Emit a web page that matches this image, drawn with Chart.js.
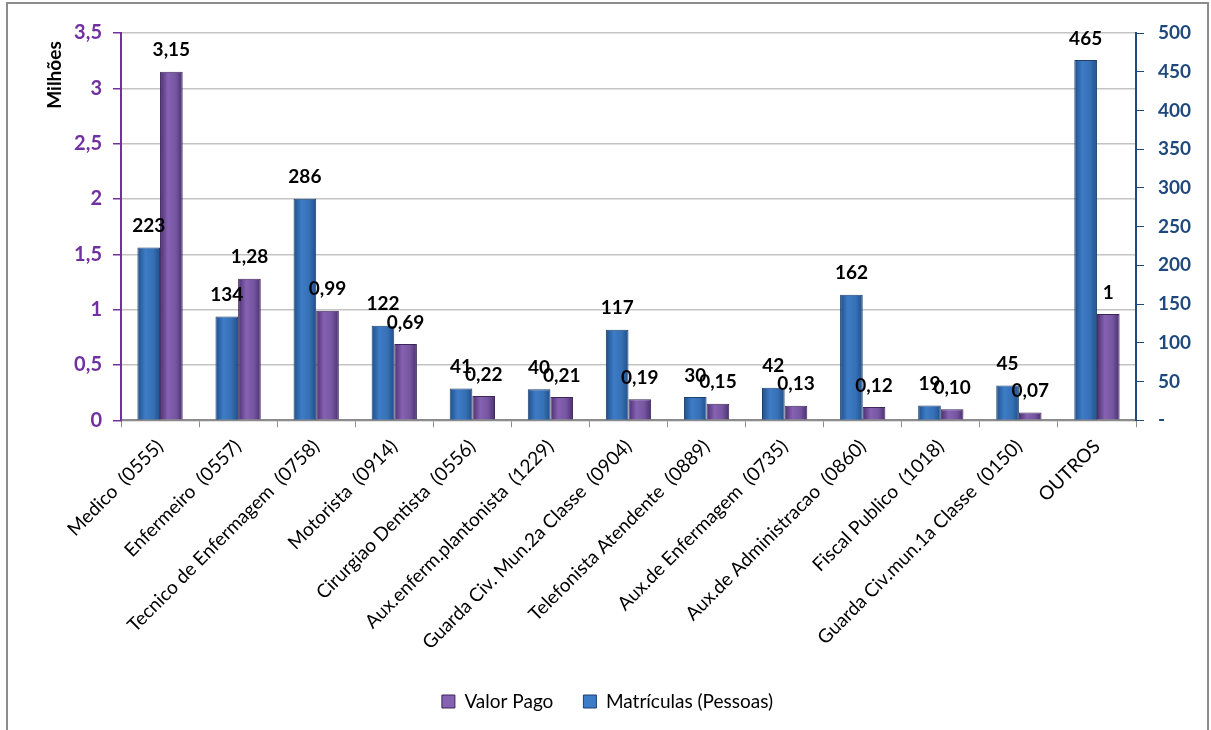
<!DOCTYPE html>
<html>
<head>
<meta charset="utf-8">
<script src="https://cdn.jsdelivr.net/npm/chart.js@4"></script>
<style>
  html, body { margin: 0; padding: 0; background: #fff; }
  #wrap { position: absolute; left: 6px; top: 2px; width: 1199px; height: 740px; border: 2px solid #8c8c8c; background: #fff; }
  #box { position: absolute; left: 0; top: 0; width: 1199px; height: 726px; }
</style>
</head>
<body>
<div id="wrap"><div id="box"><canvas id="barChart"></canvas></div></div>
<script>
const cargos = ['Medico  (0555)', 'Enfermeiro  (0557)', 'Tecnico de Enfermagem  (0758)', 'Motorista  (0914)',
  'Cirurgiao Dentista  (0556)', 'Aux.enferm.plantonista  (1229)', 'Guarda Civ. Mun.2a Classe  (0904)',
  'Telefonista Atendente  (0889)', 'Aux.de Enfermagem  (0735)', 'Aux.de Administracao  (0860)',
  'Fiscal Publico  (1018)', 'Guarda Civ.mun.1a Classe  (0150)', 'OUTROS'];
const matriculas = [223, 134, 286, 122, 41, 40, 117, 30, 42, 162, 19, 45, 465];
const valorPago = [3.15, 1.28, 0.99, 0.69, 0.22, 0.21, 0.19, 0.15, 0.13, 0.12, 0.10, 0.07, 0.96];
const valorPagoTextos = ['3,15', '1,28', '0,99', '0,69', '0,22', '0,21', '0,19', '0,15', '0,13', '0,12', '0,10', '0,07', '1'];
const ticksMilhoes = ['0', '0,5', '1', '1,5', '2', '2,5', '3', '3,5'];

const fonte = 'Lato, "Open Sans", sans-serif';

// degradê horizontal em cada barra (efeito 3D do Excel)
function degrade(cores, lado) {
  return function (c) {
    const chart = c.chart;
    const x = chart.scales.x;
    if (!x || x.width === 0 || c.dataIndex === undefined) return cores[1];
    const larg = (x.width / cargos.length) * 0.58 / 2;
    const centro = x.getPixelForValue(c.dataIndex);
    const x0 = lado < 0 ? centro - larg : centro;
    const g = chart.ctx.createLinearGradient(x0, 0, x0 + larg, 0);
    g.addColorStop(0, cores[0]);
    g.addColorStop(0.35, cores[1]);
    g.addColorStop(0.7, cores[2]);
    g.addColorStop(1, cores[0]);
    return g;
  };
}

// rótulos de dados acima das barras
const rotulos = {
  id: 'rotulos',
  afterDatasetsDraw(chart) {
    const ctx = chart.ctx;
    ctx.save();
    ctx.font = 'bold 19px ' + fonte;
    ctx.fillStyle = '#000';
    ctx.textAlign = 'center';
    ctx.textBaseline = 'bottom';
    chart.data.datasets.forEach((ds, i) => {
      chart.getDatasetMeta(i).data.forEach((bar, j) => {
        const txt = i === 0 ? String(matriculas[j]) : valorPagoTextos[j];
        ctx.fillText(txt, bar.x, bar.y - 12);
      });
    });
    ctx.restore();
  }
};

// título "Milhões" no alto do eixo esquerdo
const tituloEixo = {
  id: 'tituloEixo',
  afterDraw(chart) {
    const ctx = chart.ctx;
    const a = chart.chartArea;
    ctx.save();
    ctx.translate(a.left - 66, a.top + 42);
    ctx.rotate(-Math.PI / 2);
    ctx.font = 'bold 19px ' + fonte;
    ctx.fillStyle = '#000';
    ctx.textAlign = 'center';
    ctx.textBaseline = 'middle';
    ctx.fillText('Milhões', 0, 0);
    ctx.restore();
  }
};

const ctx = document.getElementById('barChart').getContext('2d');
const grafico = new Chart(ctx, {
  type: 'bar',
  data: {
    labels: cargos,
    datasets: [{
      label: 'Matrículas (Pessoas)',
      data: matriculas,
      yAxisID: 'y1',
      backgroundColor: degrade(['#1f4f8a', '#3d7cc6', '#3670b5'], -1),
      borderColor: '#1c3f6e',
      borderWidth: 1,
      categoryPercentage: 0.58,
      barPercentage: 1
    }, {
      label: 'Valor Pago',
      data: valorPago,
      yAxisID: 'y',
      backgroundColor: degrade(['#4b2f70', '#8662b2', '#7555a0'], 1),
      borderColor: '#3c2559',
      borderWidth: 1,
      categoryPercentage: 0.58,
      barPercentage: 1
    }]
  },
  options: {
    responsive: true,
    maintainAspectRatio: false,
    animation: false,
    layout: { padding: { top: 29, left: 0, right: 0, bottom: 9 } },
    plugins: {
      legend: {
        position: 'bottom',
        reverse: true,
        labels: {
          boxWidth: 13,
          boxHeight: 13,
          color: '#000',
          font: { family: fonte, size: 19 },
          padding: 30,
          generateLabels(chart) {
            const cores = ['#3d7cc6', '#8662b2'];
            return chart.data.datasets.map((ds, i) => ({
              text: ds.label,
              fillStyle: cores[i],
              strokeStyle: i === 0 ? '#1c3f6e' : '#3c2559',
              lineWidth: 1,
              datasetIndex: i
            }));
          }
        }
      },
      tooltip: { enabled: false }
    },
    scales: {
      x: {
        grid: { drawOnChartArea: false, color: '#8c8c8c', tickLength: 7, offset: true },
        border: { color: '#8c8c8c', width: 2 },
        ticks: {
          color: '#000',
          font: { family: fonte, size: 19 },
          maxRotation: 45,
          minRotation: 45,
          autoSkip: false,
          padding: 8
        }
      },
      y: {
        position: 'left',
        min: 0,
        max: 3.5,
        afterFit(s) { s.width = 113; },
        grid: { color: '#c4c4c4', lineWidth: 1.5, tickColor: '#7030a0', tickLength: 8 },
        border: { color: '#7030a0', width: 2 },
        ticks: {
          stepSize: 0.5,
          color: '#7030a0',
          font: { family: fonte, size: 20, weight: 'bold' },
          padding: 11,
          callback: (v, i) => ticksMilhoes[i]
        }
      },
      y1: {
        position: 'right',
        min: 0,
        max: 500,
        afterFit(s) { s.width = 71; },
        grid: { drawOnChartArea: false, tickColor: '#1f497d', tickLength: 8 },
        border: { color: '#1f497d', width: 2 },
        ticks: {
          stepSize: 50,
          color: '#1f497d',
          font: { family: fonte, size: 19, weight: 'bold' },
          padding: 14,
          callback: (v) => v === 0 ? '-' : v
        }
      }
    }
  },
  plugins: [rotulos, tituloEixo]
});
</script>
</body>
</html>
